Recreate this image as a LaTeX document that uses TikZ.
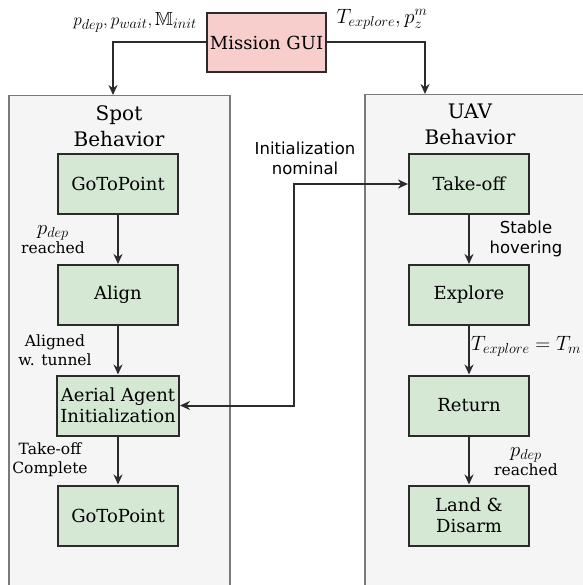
\documentclass[tikz,border=0pt]{standalone}
\usepackage{amssymb}
\usepackage{fontspec}
\setmainfont{DejaVu Serif}
\newfontfamily\lblsans{DejaVu Sans}
\usetikzlibrary{arrows.meta}

\definecolor{guipink}{HTML}{F8CECC}
\definecolor{stategreen}{HTML}{D5E8D4}
\definecolor{groupgray}{HTML}{F5F5F5}
\definecolor{groupline}{HTML}{7A7A7A}
\definecolor{boxline}{HTML}{2B2B2B}

\begin{document}
\begin{tikzpicture}[x=1pt, y=-1pt,
  state/.style={rectangle, draw=boxline, fill=stategreen, line width=2pt, minimum width=120pt, minimum height=60pt, align=center, font=\fontsize{18}{21}\selectfont},
  group/.style={rectangle, draw=groupline, fill=groupgray, line width=1.5pt, anchor=north west},
  title/.style={align=center, font=\fontsize{20}{26}\selectfont},
  lbl/.style={align=center, font=\fontsize{15.5}{19}\selectfont},
  sanslbl/.style={align=center, font=\lblsans\fontsize{16.5}{20}\selectfont},
  arr/.style={-{Stealth[length=10pt, width=9pt]}, line width=2pt, draw=boxline}]
  \useasboundingbox (0,0) rectangle (582,585);

  % groups
  \node[group, minimum width=221pt, minimum height=500pt] (spot) at (8,95) {};
  \node[group, minimum width=225pt, minimum height=500pt] (uav) at (364,94) {};
  \node[title] (spottitle) at (119,126) {Spot\\Behavior};
  \node[title] (uavtitle) at (470,124) {UAV\\Behavior};

  % mission gui
  \node[rectangle, draw=boxline, fill=guipink, line width=2pt, minimum width=111pt, minimum height=59pt, font=\fontsize{18}{21}\selectfont] (gui) at (266.5,42.5) {Mission GUI};
  \node[lbl] (guiout1) at (135,22) {\fontsize{19}{22}\selectfont$p_{dep}, p_{wait}, \mathbb{M}_{init}$};
  \node[lbl] (guiout2) at (382,19) {\fontsize{19.5}{22}\selectfont$T_{explore}, p_z^m$};
  \coordinate (spotin) at (113,95);
  \coordinate (uavin) at (425,94);

  % spot states
  \node[state] (goto1) at (118,184) {GoToPoint};
  \node[state] (align) at (118,295) {Align};
  \node[state] (init) at (118,405.5) {Aerial Agent\\Initialization};
  \node[state] (goto2) at (118,515.5) {GoToPoint};

  % uav states
  \node[state] (takeoff) at (469,184) {Take-off};
  \node[state] (explore) at (469,295) {Explore};
  \node[state] (return) at (469,405.5) {Return};
  \node[state] (land) at (469,515.5) {Land \&\\Disarm};

  % transition labels
  \node[lbl] (l1) at (53,240) {\fontsize{20}{20}\selectfont$p_{dep}$\\reached};
  \node[lbl] (l2) at (55,350) {Aligned\\w. tunnel};
  \node[lbl] (l3) at (50,460) {Take-off\\Complete};
  \node[sanslbl] (l4) at (526,239) {Stable\\hovering};
  \node[lbl] (l5) at (526,346) {\fontsize{20}{22}\selectfont$T_{explore} = T_m$};
  \node[lbl] (l6) at (526,462) {\fontsize{20}{20}\selectfont$p_{dep}$\\reached};
  \node[sanslbl] (l7) at (305,158) {Initialization\\nominal};
  \coordinate (link) at (294,300);

  \draw[arr] (gui.west) -| (spotin);
  \draw[arr] (gui.east) -| (uavin);
  \draw[arr] (goto1) -- (align);
  \draw[arr] (align) -- (init);
  \draw[arr] (init) -- (goto2);
  \draw[arr] (takeoff) -- (explore);
  \draw[arr] (explore) -- (return);
  \draw[arr] (return) -- (land);
  \draw[arr, {Stealth[length=10pt, width=9pt]}-{Stealth[length=10pt, width=9pt]}] (init.east) -| (link) |- (takeoff.west);
\end{tikzpicture}
\end{document}
